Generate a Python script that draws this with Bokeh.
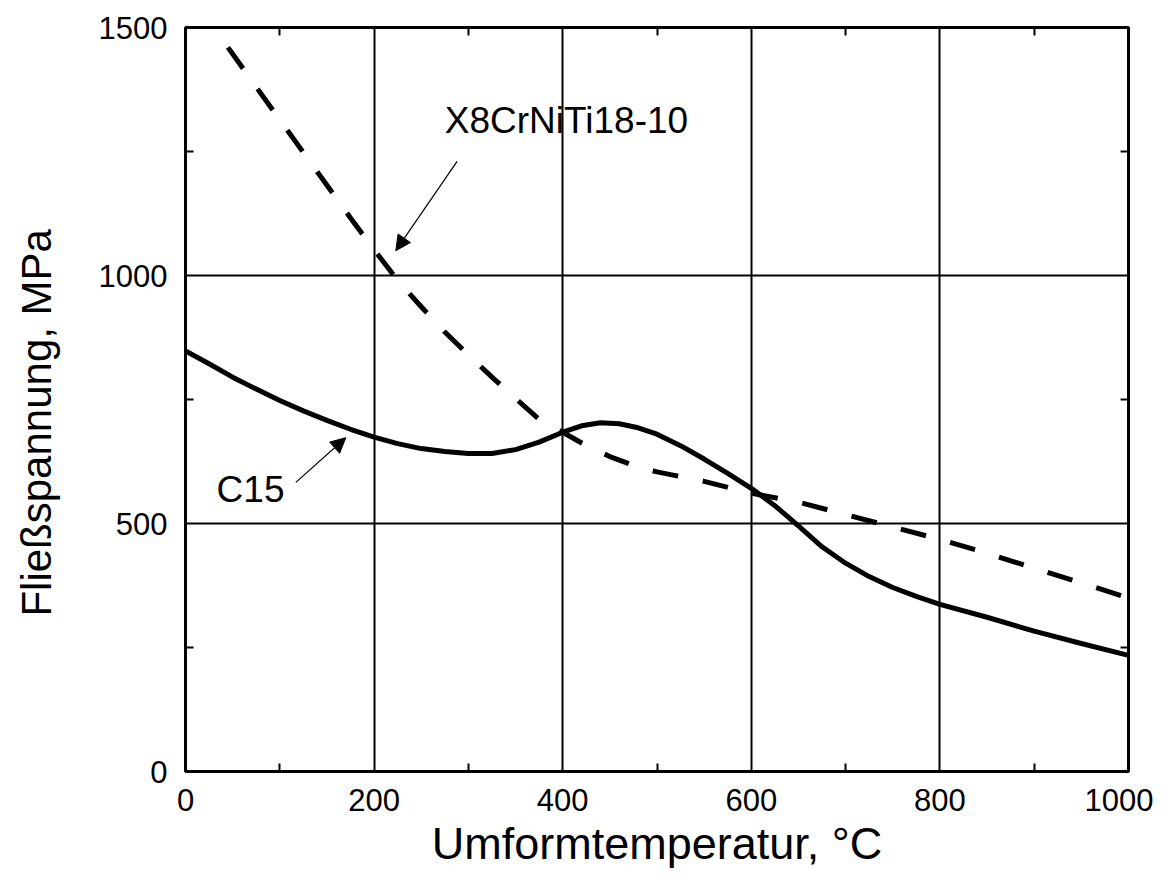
from bokeh.plotting import figure
from bokeh.models import (Range1d, FixedTicker, LinearAxis, Label, Arrow, NormalHead)
from bokeh.embed import file_html
from bokeh.resources import INLINE

# ---- data ----
c15_t = [0, 25, 50, 75, 100, 125, 150, 175, 200, 225, 250, 275, 300, 325, 350, 375,
         400, 420, 440, 460, 480, 500, 525, 550, 575, 600, 625, 650, 675, 700, 725,
         750, 775, 800, 850, 900, 950, 1000]
c15_s = [848, 822, 795, 771, 748, 727, 708, 690, 674, 661, 651, 645, 641, 641, 649, 664,
         684, 697, 703, 701, 693, 680, 657, 630, 601, 571, 536, 495, 453, 420, 393,
         371, 353, 337, 311, 283, 258, 234]

x8_t = [45, 75, 100, 125, 150, 175, 200, 225, 250, 275, 300, 325, 350, 375, 400, 425,
        450, 475, 500, 550, 600, 650, 700, 750, 800, 850, 900, 950, 1000]
x8_s = [1460, 1380, 1314, 1248, 1182, 1116, 1052, 990, 937, 886, 840, 795, 752, 710,
        684, 657, 635, 617, 604, 585, 561, 543, 518, 493, 468, 440, 410, 380, 350]

x_major = [0, 200, 400, 600, 800, 1000]
x_minor = [100, 300, 500, 700, 900]
y_major = [0, 500, 1000, 1500]
y_minor = [250, 750, 1250]

x_title = "Umformtemperatur, °C"
y_title = "Fließspannung, MPa"

FONT = "Liberation Sans"

p = figure(frame_width=943, frame_height=744,
           x_range=Range1d(0, 1000), y_range=Range1d(0, 1500),
           output_backend="svg", toolbar_location=None,
           min_border_left=185, min_border_top=27, min_border_right=25,
           min_border_bottom=100)
p.background_fill_color = "white"
p.border_fill_color = "white"
p.outline_line_color = "black"
p.outline_line_width = 3
p.outline_line_alpha = 1

xt = FixedTicker(ticks=x_major, minor_ticks=x_minor)
yt = FixedTicker(ticks=y_major, minor_ticks=y_minor)


def style_axis(ax, labels=True, ticks=None):
    ax.axis_line_color = None
    ax.major_tick_in = 0
    ax.major_tick_out = 0
    ax.minor_tick_in = 8
    ax.minor_tick_out = 0
    ax.minor_tick_line_color = "black"
    ax.minor_tick_line_width = 2
    ax.major_label_text_font = FONT
    ax.major_label_text_font_size = "31px"
    ax.major_label_text_color = "black"
    if labels:
        ax.axis_label_text_font = FONT
        ax.axis_label_text_font_style = "normal"
        ax.axis_label_text_color = "black"
    else:
        ax.major_label_overrides = {t: "" for t in ticks}
        ax.major_label_standoff = 0


p.xaxis.ticker = xt
p.yaxis.ticker = yt
style_axis(p.xaxis[0])
style_axis(p.yaxis[0])
p.xaxis.axis_label = x_title
p.xaxis.axis_label_text_font_size = "45px"
p.xaxis.major_label_standoff = 17
p.xaxis.axis_label_standoff = 4
# trailing no-break spaces nudge the centred title slightly downwards
p.yaxis.axis_label = y_title + "\u00a0" * 4
p.yaxis.axis_label_text_font_size = "42px"
p.yaxis.major_label_standoff = 18
p.yaxis.axis_label_standoff = 36

top = LinearAxis(ticker=xt)
style_axis(top, labels=False, ticks=x_major)
p.add_layout(top, "above")
right = LinearAxis(ticker=yt)
style_axis(right, labels=False, ticks=y_major)
p.add_layout(right, "right")

p.xgrid.ticker = FixedTicker(ticks=x_major)
p.ygrid.ticker = FixedTicker(ticks=y_major)
for g in (p.xgrid[0], p.ygrid[0]):
    g.grid_line_color = "black"
    g.grid_line_width = 2
    g.grid_line_alpha = 1

p.line(c15_t, c15_s, line_color="black", line_width=5, line_join="round")
p.line(x8_t, x8_s, line_color="black", line_width=5, line_dash="26 25")

p.add_layout(Label(x=275, y=1312, text="X8CrNiTi18-10", text_font=FONT,
                   text_font_size="37px", text_color="black",
                   text_baseline="alphabetic"))
p.add_layout(Label(x=33, y=568, text="C15", text_font=FONT,
                   text_font_size="37px", text_color="black",
                   text_baseline="alphabetic"))

p.add_layout(Arrow(end=NormalHead(size=15, fill_color="black", line_color="black"),
                   x_start=288, y_start=1230, x_end=223, y_end=1050,
                   line_width=1.2, line_color="black"))
p.add_layout(Arrow(end=NormalHead(size=15, fill_color="black", line_color="black"),
                   x_start=117, y_start=583, x_end=170, y_end=673,
                   line_width=1.2, line_color="black"))

open("out.html", "w").write(file_html(p, INLINE))
